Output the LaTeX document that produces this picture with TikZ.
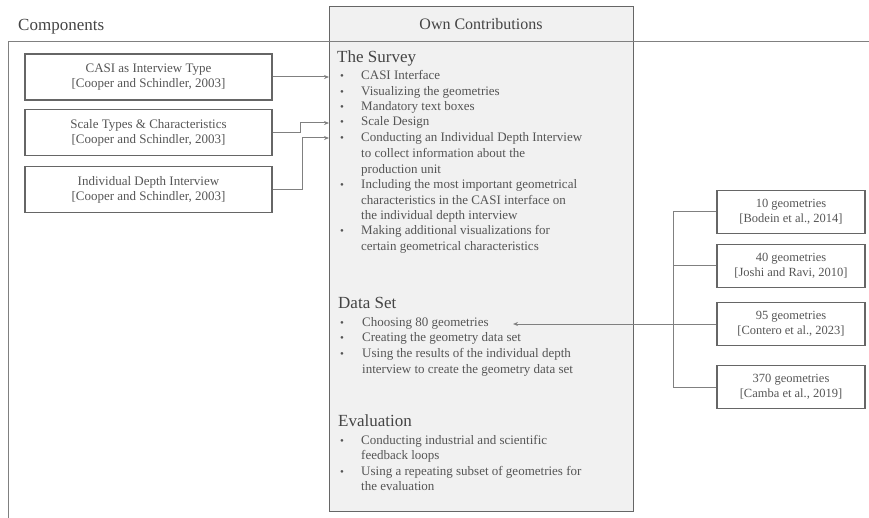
\documentclass[tikz,border=0pt]{standalone}
\usepackage{fontspec}
\setmainfont{Liberation Serif}
\usetikzlibrary{arrows.meta}
\definecolor{txt}{HTML}{555555}
\definecolor{ttl}{HTML}{444444}
\definecolor{ln}{HTML}{808080}
\definecolor{bx}{HTML}{666666}
\definecolor{fillg}{HTML}{F1F1F1}
\tikzset{
  refbox/.style={draw=bx, line width=1.1pt, minimum width=247pt, minimum height=46pt, inner sep=0pt,
    align=center, text=txt, font=\fontsize{13}{15}\selectfont},
  geobox/.style={draw=bx, line width=1.1pt, minimum width=148pt, minimum height=43pt, inner sep=0pt,
    align=center, text=txt, font=\fontsize{12.5}{15}\selectfont},
  itemtxt/.style={anchor=mid west, inner sep=0pt, text=txt, font=\fontsize{13}{15}\selectfont},
  bul/.style={inner sep=0pt, text=txt, font=\fontsize{11}{13}\selectfont},
  sectitle/.style={anchor=mid west, inner sep=0pt, text=ttl, font=\fontsize{17}{19}\selectfont},
  conn/.style={draw=ln, line width=1pt},
  arr/.style={conn, -{Stealth[length=5pt,width=4pt]}},
}
\begin{document}
\begin{tikzpicture}[x=1pt,y=-1pt]
\useasboundingbox (0,0) rectangle (869,518);
% own contributions box
\node[draw=bx, fill=fillg, line width=1.4pt, minimum width=304pt, minimum height=505pt, inner sep=0pt, anchor=north west] (oc) at (329,6) {};
\node[text=ttl, font=\fontsize{16}{18}\selectfont, inner sep=0pt] (octitle) at (481,24) {Own Contributions};
% frame
\coordinate (fb) at (8,518);
\coordinate (fc) at (8,42);
\coordinate (fr) at (869,42);
\draw[draw=ln, line width=1pt] (fb) -- (fc) -- (fr);
\node[anchor=mid west, inner sep=0pt, text=ttl, font=\fontsize{17}{19}\selectfont] (comp) at (18,28) {Components};
% section titles
\node[sectitle] (t1) at (337,60) {The Survey};
\node[sectitle] (t2) at (338,306) {Data Set};
\node[sectitle] (t3) at (338,424) {Evaluation};
% bullets
\foreach \y [count=\i] in {77,93,108,123,139,186,232,324,339,355,442,473}
  \node[bul] (b\i) at (342,\y) {\textbullet};
% item lines
\foreach \y/\t [count=\i] in {
  77/CASI Interface,
  93/Visualizing the geometries,
  108/Mandatory text boxes,
  123/Scale Design,
  139/Conducting an Individual Depth Interview,
  155/to collect information about the,
  171/production unit,
  186/Including the most important geometrical,
  202/characteristics in the CASI interface on,
  217/the individual depth interview,
  232/Making additional visualizations for,
  248/certain geometrical characteristics}
  \node[itemtxt] (s\i) at (361,\y) {\t};
\foreach \y/\t [count=\i] in {
  324/Choosing 80 geometries,
  339/Creating the geometry data set,
  355/Using the results of the individual depth,
  371/interview to create the geometry data set}
  \node[itemtxt] (d\i) at (362,\y) {\t};
\foreach \y/\t [count=\i] in {
  442/Conducting industrial and scientific,
  457/feedback loops,
  473/Using a repeating subset of geometries for,
  488/the evaluation}
  \node[itemtxt] (e\i) at (361,\y) {\t};
% left reference boxes
\node[refbox] (l1) at (148.5,77) {CASI as Interview Type\\{}[Cooper and Schindler, 2003]};
\node[refbox] (l2) at (148.5,132.5) {Scale Types \& Characteristics\\{}[Cooper and Schindler, 2003]};
\node[refbox] (l3) at (148.5,189.5) {Individual Depth Interview\\{}[Cooper and Schindler, 2003]};
\coordinate (a1) at (329,77);
\coordinate (a2) at (329,123);
\coordinate (a3) at (329,138);
\coordinate (e2) at (300,132.5);
\coordinate (e3) at (302,189.5);
\draw[arr] (l1.east) -- (a1);
\draw[arr] (l2.east) -- (e2) |- (a2);
\draw[arr] (l3.east) -- (e3) |- (a3);
% right geometry boxes
\node[geobox] (r1) at (791,212) {10 geometries\\{}[Bodein et al., 2014]};
\node[geobox] (r2) at (791,266) {40 geometries\\{}[Joshi and Ravi, 2010]};
\node[geobox] (r3) at (791,324) {95 geometries\\{}[Contero et al., 2023]};
\node[geobox] (r4) at (791,387) {370 geometries\\{}[Camba et al., 2019]};
\coordinate (k1) at (673,212);
\coordinate (k2) at (673,266);
\coordinate (k3) at (673,324);
\coordinate (k4) at (673,387);
\coordinate (tgt) at (513,324);
\draw[conn] (r1.west) -- (k1) -- (k4) -- (r4.west);
\draw[conn] (r2.west) -- (k2);
\draw[conn] (r3.west) -- (k3);
\draw[arr] (k3) -- (tgt);
\end{tikzpicture}
\end{document}
